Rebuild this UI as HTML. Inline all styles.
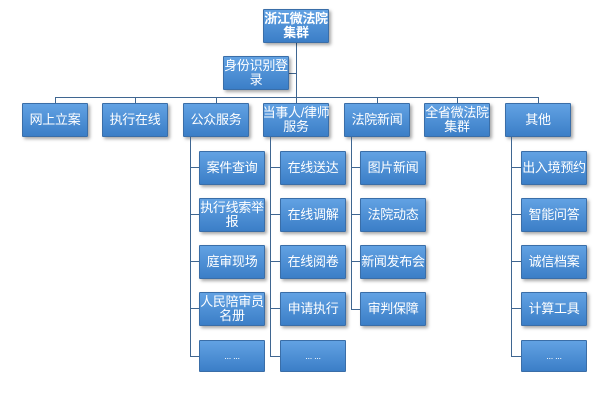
<!DOCTYPE html>
<html><head><meta charset="utf-8"><style>
body{margin:0;width:616px;height:416px;background:#fff;position:relative;overflow:hidden;font-family:"Liberation Sans","Noto Sans CJK SC",sans-serif}
.b{position:absolute;width:66px;height:34px;background:linear-gradient(#62a2e3,#3b7ec7);border:1px solid #3a6ea8;box-sizing:border-box;box-shadow:2px 2px 3px rgba(0,0,0,.35);color:#fff;font-size:13px;line-height:14px;display:flex;align-items:center;justify-content:center;text-align:center;border-radius:1px;white-space:nowrap;letter-spacing:-0.3px}
.l{position:absolute;background:#3f6691}
.cut{box-shadow:none;height:32px}
</style></head><body>
<div class="l" style="left:296px;top:42px;width:1px;height:61px"></div>
<div class="l" style="left:289px;top:73px;width:7px;height:1px"></div>
<div class="l" style="left:55px;top:97px;width:484px;height:1px"></div>
<div class="l" style="left:55px;top:97px;width:1px;height:6px"></div>
<div class="l" style="left:135px;top:97px;width:1px;height:6px"></div>
<div class="l" style="left:216px;top:97px;width:1px;height:6px"></div>
<div class="l" style="left:377px;top:97px;width:1px;height:6px"></div>
<div class="l" style="left:457px;top:97px;width:1px;height:6px"></div>
<div class="l" style="left:538px;top:97px;width:1px;height:6px"></div>

<div class="b" style="left:263px;top:9px;font-weight:bold">浙江微法院<br>集群</div>
<div class="b" style="left:223px;top:56px">身份识别登<br>录</div>
<div class="b" style="left:22px;top:103px">网上立案</div>
<div class="b" style="left:102px;top:103px">执行在线</div>
<div class="b" style="left:183px;top:103px">公众服务</div>
<div class="b" style="left:263px;top:103px">当事人/律师<br>服务</div>
<div class="b" style="left:344px;top:103px">法院新闻</div>
<div class="b" style="left:424px;top:103px">全省微法院<br>集群</div>
<div class="b" style="left:505px;top:103px">其他</div>

<div class="l" style="left:190px;top:137px;width:1px;height:220px"></div>
<div class="l" style="left:270px;top:137px;width:1px;height:220px"></div>
<div class="l" style="left:351px;top:137px;width:1px;height:173px"></div>
<div class="l" style="left:511px;top:137px;width:1px;height:220px"></div>
<div class="l" style="left:190px;top:167px;width:9px;height:1px"></div>
<div class="l" style="left:190px;top:214px;width:9px;height:1px"></div>
<div class="l" style="left:190px;top:261px;width:9px;height:1px"></div>
<div class="l" style="left:190px;top:308px;width:9px;height:1px"></div>
<div class="l" style="left:190px;top:356px;width:9px;height:1px"></div>
<div class="l" style="left:270px;top:167px;width:10px;height:1px"></div>
<div class="l" style="left:270px;top:214px;width:10px;height:1px"></div>
<div class="l" style="left:270px;top:261px;width:10px;height:1px"></div>
<div class="l" style="left:270px;top:308px;width:10px;height:1px"></div>
<div class="l" style="left:270px;top:356px;width:10px;height:1px"></div>
<div class="l" style="left:351px;top:167px;width:9px;height:1px"></div>
<div class="l" style="left:351px;top:214px;width:9px;height:1px"></div>
<div class="l" style="left:351px;top:261px;width:9px;height:1px"></div>
<div class="l" style="left:351px;top:309px;width:9px;height:1px"></div>
<div class="l" style="left:511px;top:167px;width:10px;height:1px"></div>
<div class="l" style="left:511px;top:214px;width:10px;height:1px"></div>
<div class="l" style="left:511px;top:261px;width:10px;height:1px"></div>
<div class="l" style="left:511px;top:308px;width:10px;height:1px"></div>
<div class="l" style="left:511px;top:356px;width:10px;height:1px"></div>

<div class="b" style="left:199px;top:151px">案件查询</div>
<div class="b" style="left:199px;top:198px">执行线索举<br>报</div>
<div class="b" style="left:199px;top:245px">庭审现场</div>
<div class="b" style="left:199px;top:292px">人民陪审员<br>名册</div>
<div class="b cut" style="left:199px;top:340px;font-size:9px">... ...</div>

<div class="b" style="left:280px;top:151px">在线送达</div>
<div class="b" style="left:280px;top:198px">在线调解</div>
<div class="b" style="left:280px;top:245px">在线阅卷</div>
<div class="b" style="left:280px;top:292px">申请执行</div>
<div class="b cut" style="left:280px;top:340px;font-size:9px">... ...</div>

<div class="b" style="left:360px;top:151px">图片新闻</div>
<div class="b" style="left:360px;top:198px">法院动态</div>
<div class="b" style="left:360px;top:245px">新闻发布会</div>
<div class="b" style="left:360px;top:292px">审判保障</div>

<div class="b" style="left:521px;top:151px">出入境预约</div>
<div class="b" style="left:521px;top:198px">智能问答</div>
<div class="b" style="left:521px;top:245px">诚信档案</div>
<div class="b" style="left:521px;top:292px">计算工具</div>
<div class="b cut" style="left:521px;top:340px;font-size:9px">... ...</div>
<div style="position:absolute;left:0;top:372px;width:616px;height:44px;background:#fff"></div>
</body></html>
